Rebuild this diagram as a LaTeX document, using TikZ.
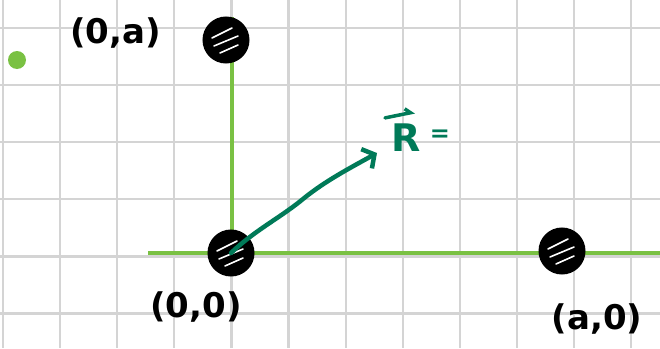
\documentclass[tikz,border=0pt]{standalone}
\usepackage{fontspec}
\setmainfont{DejaVu Sans}
\usetikzlibrary{arrows.meta, positioning, calc}
\definecolor{gridgray}{RGB}{212,212,212}
\definecolor{axisgreen}{RGB}{122,193,67}
\definecolor{vecgreen}{RGB}{0,122,88}

\begin{document}
\begin{tikzpicture}[x=1pt, y=-1pt,
  gridline/.style={gridgray, line width=2.2pt},
  axisline/.style={axisgreen, line width=3.5pt},
  mass/.style={circle, draw=black, fill=black, line width=3pt, minimum size=44pt, inner sep=0pt},
  scribble/.style={white, line width=1.6pt, line cap=round},
  lbl/.style={font=\fontsize{34}{38}\selectfont\bfseries}]
  \useasboundingbox (0,0) rectangle (660,348);
  % grid paper
  \foreach \gx in {0,...,11}
    \draw[gridline] ({3+57.1*\gx},0) -- ({3+57.1*\gx},348);
  \foreach \gy in {0,...,5}
    \draw[gridline] (0,{28+57.1*\gy}) -- (660,{28+57.1*\gy});
  % axes
  \coordinate (O) at (231,253);
  \coordinate (ytop) at (232,17);
  \coordinate (xleft) at (148,253);
  \coordinate (xright) at (660,253);
  \draw[axisline] (ytop) -- (ytop |- O);
  \draw[axisline] (xleft) -- (xright);
  % masses
  \node[mass] (top) at (226,40) {};
  \node[mass] (origin) at (O) {};
  \node[mass] (right) at (562,251) {};
  \foreach \m in {top,origin,right} {
    \draw[scribble] ($(\m.center)+(-14,-2)$) -- ($(\m.center)+(6,-12)$);
    \draw[scribble] ($(\m.center)+(-12,6)$) -- ($(\m.center)+(12,-4)$);
    \draw[scribble] ($(\m.center)+(-6,13)$) -- ($(\m.center)+(12,5)$);
  }
  \node[circle, fill=axisgreen, minimum size=18pt, inner sep=0pt] (dot) at (17,60) {};
  % labels
  \node[lbl, left=38pt of top, yshift=7pt] (topl) {(0,a)};
  \node[lbl, below=12pt of origin, xshift=-35pt] (originl) {(0,0)};
  \node[lbl, below=26pt of right, xshift=35pt] (rightl) {(a,0)};
  % position vector
  \coordinate (tip) at (377,153);
  \draw[vecgreen, line width=4.5pt, line cap=round, -{Straight Barb[length=9pt, width=22pt]}]
    (origin.center) .. controls (255,230) and (280,218) .. (303,199)
    .. controls (325,181) and (350,168) .. (tip);
  \node[vecgreen, font=\fontsize{38}{40}\selectfont\bfseries, inner sep=0pt, anchor=south west] (rvec) at (391,152) {R};
  \node[vecgreen, font=\fontsize{24}{26}\selectfont\bfseries, inner sep=0pt, right=9pt of rvec, yshift=2pt] (eq) {=};
  \draw[vecgreen, line width=3.5pt, line cap=round, -{Straight Barb[left, length=5pt, width=10pt]}]
    ($(rvec.north west)+(-6,-6)$) -- ($(rvec.north east)+(-6,-12)$);
\end{tikzpicture}
\end{document}
